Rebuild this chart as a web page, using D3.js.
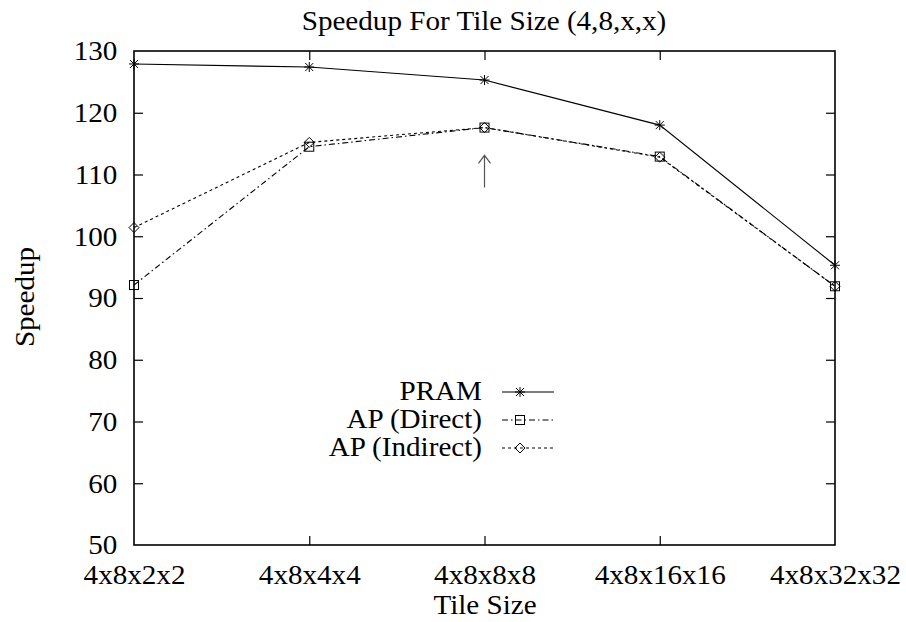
<!DOCTYPE html>
<html>
<head>
<meta charset="utf-8">
<script src="https://cdn.jsdelivr.net/npm/d3@7"></script>
<style>
  body { margin: 0; background: #fff; }
  text { font-family: "Liberation Serif", "Times New Roman", serif; fill: #000; }
</style>
</head>
<body>
<div id="chart"></div>
<script>
const categories = ["4x8x2x2", "4x8x4x4", "4x8x8x8", "4x8x16x16", "4x8x32x32"];
const pram = [127.9, 127.4, 125.3, 118.0, 95.3];
const apDirect = [92.1, 114.5, 117.6, 112.9, 91.9];
const apIndirect = [101.4, 115.2, 117.6, 112.8, 91.9];
const yTicks = [50, 60, 70, 80, 90, 100, 110, 120, 130];

const width = 906, height = 622;
const margin = { top: 51, right: 71, bottom: 77, left: 134 };
const FS = 28;    // font size
const SX = 1.04;  // text in the original is slightly wide

const svg = d3.select("#chart").append("svg")
    .attr("width", width)
    .attr("height", height);

const x = d3.scalePoint().domain(categories).range([margin.left, width - margin.right]);
const y = d3.scaleLinear().domain([50, 130]).range([height - margin.bottom, margin.top]);

// text helper, squeezed/stretched horizontally like the original
function label(txt, px, py, anchor, rotate) {
    const g = svg.append("g").attr("transform", `translate(${px},${py})` + (rotate ? ` rotate(${rotate})` : ""));
    g.append("text")
        .attr("transform", `scale(${SX},1)`)
        .attr("text-anchor", anchor)
        .attr("font-size", FS)
        .text(txt);
}

const tickLen = 9;

// bottom axis
const xAxis = svg.append("g")
    .attr("transform", `translate(0,${y(50)})`)
    .call(d3.axisBottom(x).tickSize(-tickLen));
// top ticks
svg.append("g")
    .attr("transform", `translate(0,${y(130)})`)
    .call(d3.axisTop(x).tickSize(-tickLen).tickFormat(""));
// left axis
const yAxis = svg.append("g")
    .attr("transform", `translate(${margin.left},0)`)
    .call(d3.axisLeft(y).tickValues(yTicks).tickSize(-tickLen).tickPadding(16));
// right ticks
svg.append("g")
    .attr("transform", `translate(${width - margin.right},0)`)
    .call(d3.axisRight(y).tickValues(yTicks).tickSize(-tickLen).tickFormat(""));

svg.selectAll(".domain").remove();
svg.selectAll(".tick line").attr("stroke", "#000").attr("stroke-width", 1.2);
// no ticks on the frame corners
svg.selectAll(".tick").filter(d => d === 50 || d === 130 || d === categories[0] || d === categories[4])
    .select("line").remove();

xAxis.selectAll("text")
    .attr("font-size", FS)
    .attr("font-family", "Liberation Serif")
    .attr("y", 39)
    .attr("dy", null)
    .attr("transform", `scale(${SX},1)`);
yAxis.selectAll("text")
    .attr("font-size", FS)
    .attr("font-family", "Liberation Serif")
    .attr("transform", `scale(${SX},1)`);

// frame
svg.append("rect")
    .attr("x", margin.left)
    .attr("y", margin.top)
    .attr("width", width - margin.left - margin.right)
    .attr("height", height - margin.top - margin.bottom)
    .attr("fill", "none")
    .attr("stroke", "#000")
    .attr("stroke-width", 1.6);

// titles
label("Speedup For Tile Size (4,8,x,x)", 484, 30, "middle");
label("Tile Size", 485, 614, "middle");
label("Speedup", 34, 297, "middle", -90);

const series = [
    { name: "PRAM", values: pram, dash: null, marker: "star", ly: 392 },
    { name: "AP (Direct)", values: apDirect, dash: "6,3,1.5,3", marker: "box", ly: 420 },
    { name: "AP (Indirect)", values: apIndirect, dash: "3,3", marker: "diamond", ly: 448 }
];

const line = d3.line().x((d, i) => x(categories[i])).y(d => y(d));

function drawMarker(g, type, cx, cy) {
    if (type === "star") {
        const r = 5;
        g.append("path")
            .attr("d", `M${cx - r},${cy}H${cx + r}M${cx},${cy - r}V${cy + r}` +
                `M${cx - r * 0.8},${cy - r * 0.8}L${cx + r * 0.8},${cy + r * 0.8}` +
                `M${cx - r * 0.8},${cy + r * 0.8}L${cx + r * 0.8},${cy - r * 0.8}`)
            .attr("stroke", "#000").attr("stroke-width", 1);
    } else if (type === "box") {
        g.append("rect")
            .attr("x", cx - 4.5).attr("y", cy - 4.5)
            .attr("width", 9).attr("height", 9)
            .attr("fill", "none").attr("stroke", "#000").attr("stroke-width", 1);
    } else {
        const r = 5;
        g.append("path")
            .attr("d", `M${cx},${cy - r}L${cx + r},${cy}L${cx},${cy + r}L${cx - r},${cy}Z`)
            .attr("fill", "none").attr("stroke", "#000").attr("stroke-width", 1);
    }
}

series.forEach(s => {
    const g = svg.append("g");
    g.append("path")
        .datum(s.values)
        .attr("d", line)
        .attr("fill", "none")
        .attr("stroke", "#000")
        .attr("stroke-width", 1.1)
        .attr("stroke-dasharray", s.dash);
    s.values.forEach((v, i) => drawMarker(g, s.marker, x(categories[i]), y(v)));

    // legend
    label(s.name, 482, s.ly + 8, "end");
    g.append("line")
        .attr("x1", 502).attr("x2", 554)
        .attr("y1", s.ly).attr("y2", s.ly)
        .attr("stroke", "#000").attr("stroke-width", 1.1)
        .attr("stroke-dasharray", s.dash);
    drawMarker(g, s.marker, 520, s.ly);
});

// arrow pointing at the best tile size
const ax = x(categories[2]);
svg.append("path")
    .attr("d", `M${ax},${y(107.9)}V${y(113.1)}M${ax - 6},${y(111.8)}L${ax},${y(113.1)}L${ax + 6},${y(111.8)}`)
    .attr("fill", "none")
    .attr("stroke", "#555")
    .attr("stroke-width", 1.2);
</script>
</body>
</html>
